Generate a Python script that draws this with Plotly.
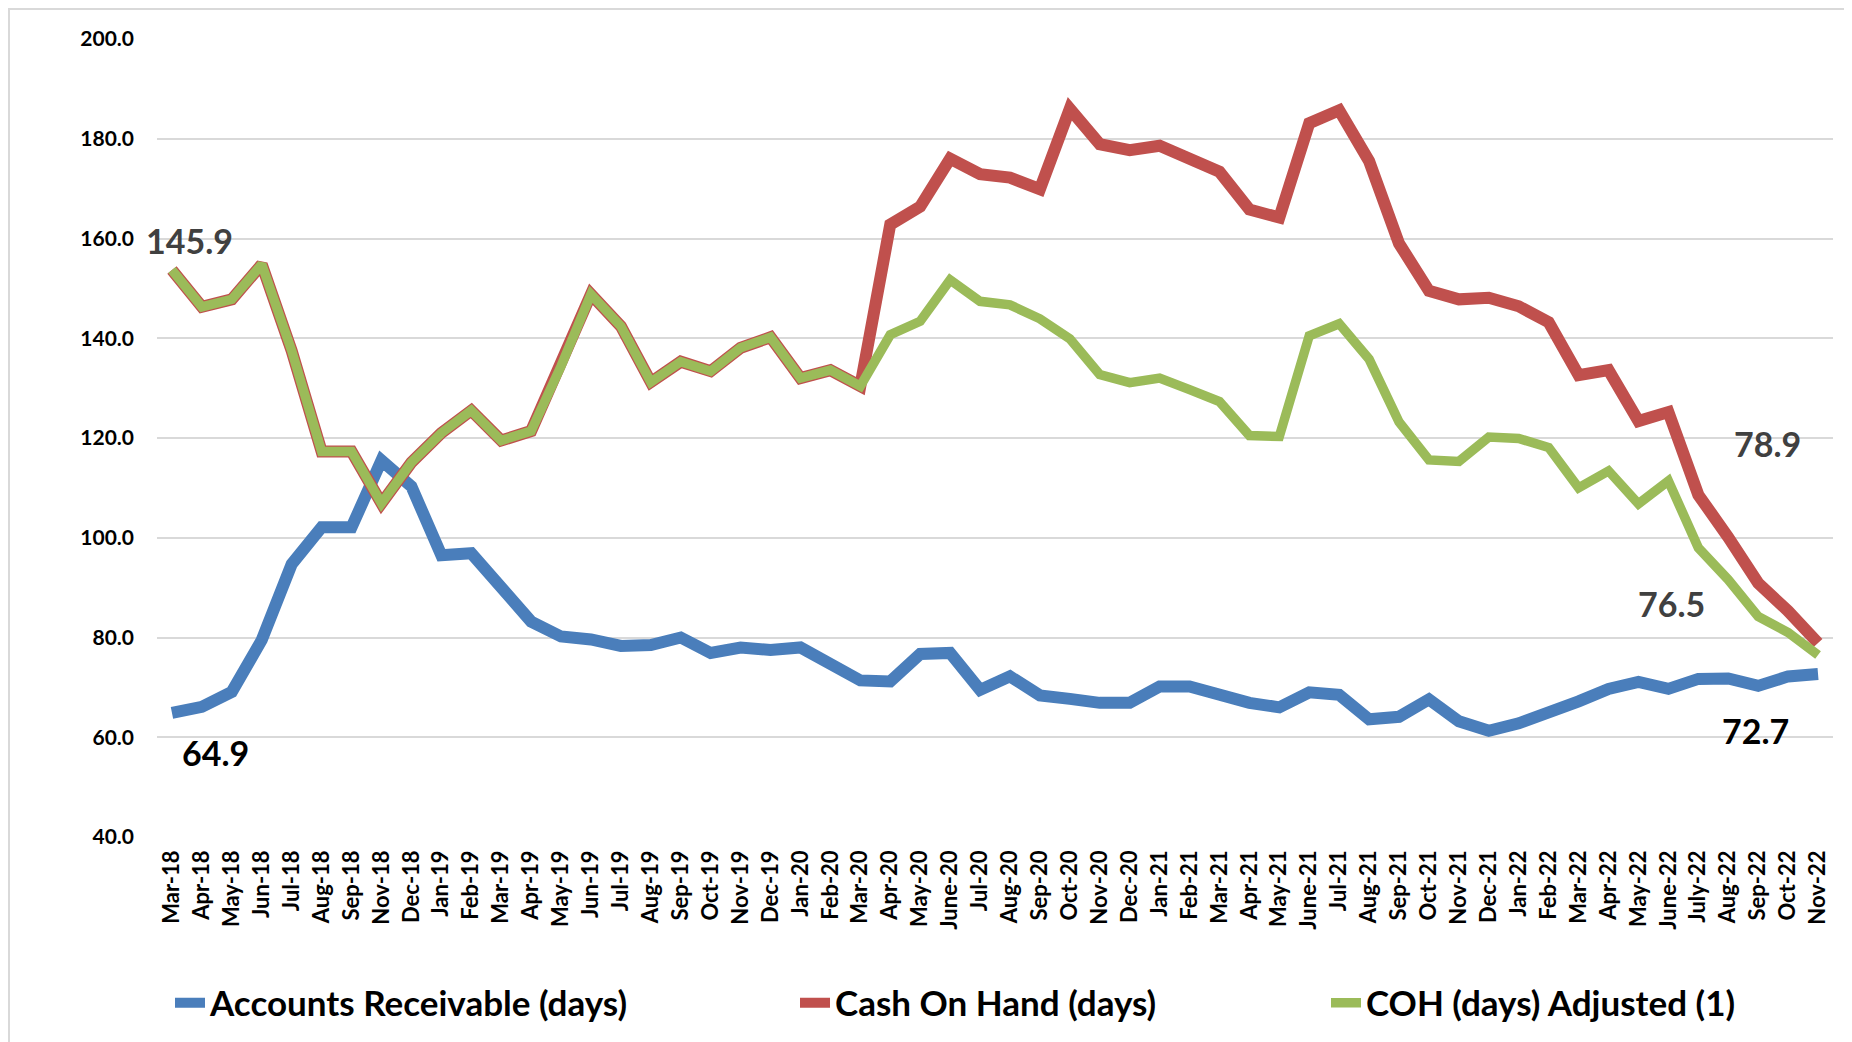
import plotly.graph_objects as go

categories = ["Mar-18","Apr-18","May-18","Jun-18","Jul-18","Aug-18","Sep-18","Nov-18","Dec-18",
              "Jan-19","Feb-19","Mar-19","Apr-19","May-19","Jun-19","Jul-19","Aug-19","Sep-19","Oct-19","Nov-19","Dec-19",
              "Jan-20","Feb-20","Mar-20","Apr-20","May-20","June-20","Jul-20","Aug-20","Sep-20","Oct-20","Nov-20","Dec-20",
              "Jan-21","Feb-21","Mar-21","Apr-21","May-21","June-21","Jul-21","Aug-21","Sep-21","Oct-21","Nov-21","Dec-21",
              "Jan-22","Feb-22","Mar-22","Apr-22","May-22","June-22","July-22","Aug-22","Sep-22","Oct-22","Nov-22"]

accounts_receivable = [64.9, 66.1, 69.1, 79.5, 94.7, 102.1, 102.1, 115.5, 110.3,
                       96.5, 96.9, 90.2, 83.2, 80.2, 79.6, 78.3, 78.5, 80.0, 76.9, 78.0, 77.5,
                       78.0, 74.5, 71.4, 71.2, 76.7, 76.9, 69.5, 72.2, 68.4, 67.7, 66.9, 66.9,
                       70.2, 70.2, 68.5, 66.9, 66.0, 69.0, 68.5, 63.6, 64.1, 67.6, 63.2, 61.3,
                       62.8, 64.7, 67.2, 69.7, 71.1, 69.7, 71.7, 71.8, 70.3, 72.2, 72.7]

cash_on_hand = [153.7, 146.3, 147.8, 154.8, 137.5, 117.3, 117.3, 106.9, 115.1,
                121.0, 125.5, 119.5, 121.4, 134.4, 148.8, 142.4, 131.2, 135.3, 133.4, 138.1, 140.2,
                132.0, 133.6, 130.4, 162.8, 166.4, 176.0, 172.9, 172.2, 169.9, 186.0, 178.9, 177.7,
                178.6, 176.2, 173.4, 165.8, 164.2, 183.1, 185.7, 175.5, 159.0, 149.5, 147.8, 148.1,
                146.4, 143.2, 132.6, 133.6, 123.4, 125.2, 108.6, 100.1, 90.9, 85.3, 78.9]

coh_adjusted = [153.7, 146.3, 147.8, 154.8, 137.5, 117.3, 117.3, 106.9, 115.1,
                121.0, 125.5, 119.5, 121.4, 134.4, 148.8, 142.4, 131.2, 135.3, 133.4, 138.1, 140.2,
                132.0, 133.6, 130.4, 140.7, 143.4, 151.7, 147.4, 146.7, 143.9, 139.9, 132.7, 131.1,
                132.0, 129.7, 127.3, 120.5, 120.3, 140.5, 142.9, 135.8, 123.2, 115.6, 115.3, 120.2,
                119.9, 118.1, 110.0, 113.4, 106.8, 111.4, 98.0, 91.6, 84.2, 81.0, 76.5]

series_names = ["Accounts Receivable (days)", "Cash On Hand (days)", "COH (days) Adjusted (1)"]
y_ticks = [40, 60, 80, 100, 120, 140, 160, 180, 200]

FONT = "Lato"
W, H = 1852, 1042
OFF = 8  # page offset of the plot div

fig = go.Figure()
fig.add_trace(go.Scatter(x=categories, y=accounts_receivable, mode="lines", name=series_names[0],
                         line=dict(color="#4A7EBB", width=12), legend="legend"))
fig.add_trace(go.Scatter(x=categories, y=cash_on_hand, mode="lines", name=series_names[1],
                         line=dict(color="#C0504D", width=12), legend="legend2"))
fig.add_trace(go.Scatter(x=categories, y=coh_adjusted, mode="lines", name=series_names[2],
                         line=dict(color="#9BBB59", width=9.5), legend="legend3"))

# data labels
labels = [
    (categories[0], 159.5, "145.9", "#404040", 0.57),
    (categories[1], 57.0, "64.9", "#000000", 0.47),
    (categories[53], 118.9, "78.9", "#404040", 0.3),
    (categories[50], 86.9, "76.5", "#404040", 0.1),
    (categories[53], 61.4, "72.7", "#000000", -0.1),
]
for cx, cy, txt, col, shift in labels:
    fig.add_annotation(x=cx, y=cy, text=txt, showarrow=False, xshift=shift * 29.9,
                       font=dict(family=FONT, size=34, color=col, weight="bold"))

legend_common = dict(orientation="h", xref="container", yref="container", yanchor="middle",
                     y=1 - (1003 - OFF) / H,
                     font=dict(family=FONT, size=35, color="#000000", weight="bold"),
                     bgcolor="rgba(0,0,0,0)", itemwidth=30)
fig.update_layout(
    showlegend=True,
    legend=dict(x=(210 - 40 - OFF) / W, **legend_common),
    legend2=dict(x=(835 - 40 - OFF) / W, **legend_common),
    legend3=dict(x=(1366 - 40 - OFF) / W, **legend_common),
)

tickfont = dict(family=FONT, size=21, color="#000000", weight="bold")
xtickfont = dict(family=FONT, size=22, color="#000000", weight="bold")
fig.update_layout(
    width=W, height=H,
    paper_bgcolor="white", plot_bgcolor="white",
    margin=dict(l=157 - OFF, r=19 + OFF, t=39 - OFF, b=205 + OFF),
    font=dict(family=FONT, color="#000000"),
    xaxis=dict(type="category", range=[-0.5, len(categories) - 0.5], tickangle=-90,
               showgrid=False, zeroline=False, showline=False, ticks="",
               tickfont=xtickfont, ticklabelstandoff=8),
    yaxis=dict(range=[40, 200], tickvals=y_ticks, tickformat=".1f",
               showgrid=True, gridcolor="#D9D9D9", gridwidth=2, zeroline=False, showline=False,
               ticks="", tickfont=tickfont, ticklabelstandoff=22),
)

# outer chart border
px0, pw = 157 - OFF, 1676
py_bottom, ph = 837 - OFF, 798
fig.add_shape(type="rect", xref="paper", yref="paper",
              x0=(8 - OFF + 1 - px0) / pw, x1=(1847 - OFF - px0) / pw,
              y0=(py_bottom - 1060) / ph, y1=(py_bottom - 1) / ph,
              line=dict(color="#D9D9D9", width=2), fillcolor="rgba(0,0,0,0)", layer="below")

fig.write_html("out.html")
